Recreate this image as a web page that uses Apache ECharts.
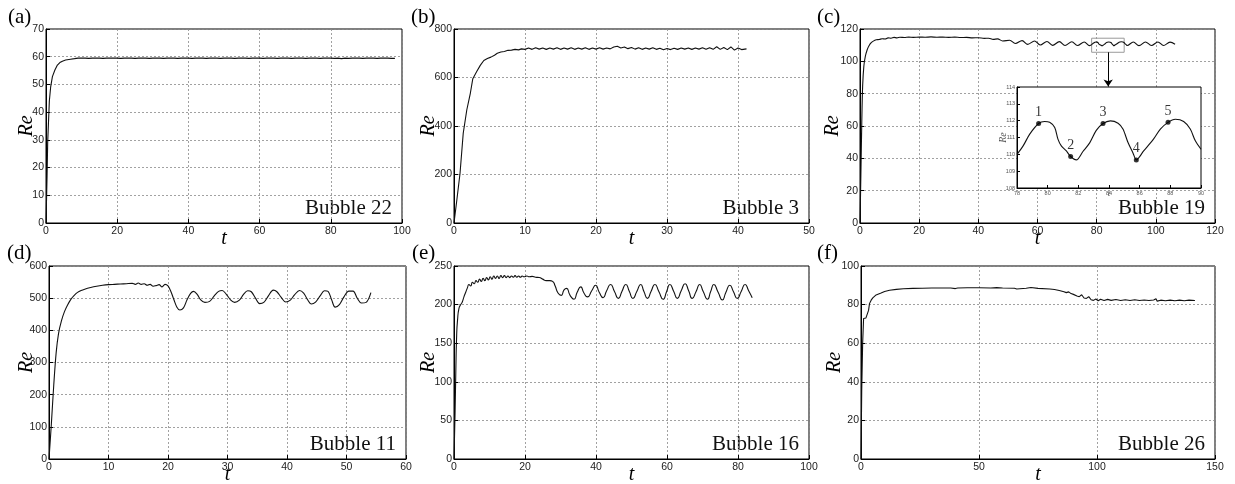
<!DOCTYPE html>
<html><head><meta charset="utf-8">
<script src="https://cdn.jsdelivr.net/npm/echarts/dist/echarts.min.js"></script>
<style>html,body{margin:0;padding:0;background:#fff}#c{width:1235px;height:484px}</style>
</head><body><div id="c"></div>
<script>
// ---------- data (t, Re) ----------
const reA = [[0,0],[0.3,17],[0.47,29],[0.94,44],[1.3,49],[1.8,52.8],[2.5,55.2],[3.2,57],[3.9,57.9],[4.6,58.4],[5.5,58.8],[6.9,59.1],[8,59.3],
[9,59.5],[9.5,59.1],[10,59.5],[10.5,59.2],[11,59.5],[11.5,59.1],[12,59.4],[12.5,59.1],[13,59.5],[13.5,59.2],
[14,59.5],[14.5,59.1],[15,59.5],[15.5,59.1],[16,59.4],[16.5,59.2],[17,59.5],[17.5,59.1],[18,59.5],[18.5,59.1],
[19,59.5],[19.5,59.2],[20,59.5],[20.5,59.1],[21,59.4],[21.5,59.1],[22,59.5],[22.5,59.2],[23,59.5],[23.5,59.1],
[24,59.5],[24.5,59.1],[25,59.4],[25.5,59.2],[26,59.5],[26.5,59.1],[27,59.5],[27.5,59.1],[28,59.5],[28.5,59.2],
[29,59.4],[29.5,59.1],[30,59.5],[30.5,59.1],[31,59.5],[31.5,59.2],[32,59.5],[32.5,59.1],[33,59.4],[33.5,59.1],
[34,59.5],[34.5,59.2],[35,59.5],[35.5,59.1],[36,59.5],[36.5,59.1],[37,59.4],[37.5,59.2],[38,59.5],[38.5,59.1],
[39,59.5],[39.5,59.1],[40,59.5],[40.5,59.2],[41,59.4],[41.5,59.1],[42,59.5],[42.5,59.1],[43,59.5],[43.5,59.2],
[44,59.5],[44.5,59.1],[45,59.4],[45.5,59.1],[46,59.5],[46.5,59.2],[47,59.5],[47.5,59.1],[48,59.5],[48.5,59.1],
[49,59.4],[49.5,59.2],[50,59.5],[50.5,59.1],[51,59.5],[51.5,59.1],[52,59.5],[52.5,59.2],[53,59.4],[53.5,59.1],
[54,59.5],[54.5,59.1],[55,59.5],[55.5,59.2],[56,59.5],[56.5,59.1],[57,59.4],[57.5,59.1],[58,59.5],[58.5,59.2],
[59,59.5],[59.5,59.1],[60,59.5],[60.5,59.1],[61,59.4],[61.5,59.2],[62,59.5],[62.5,59.1],[63,59.5],[63.5,59.1],
[64,59.5],[64.5,59.2],[65,59.4],[65.5,59.1],[66,59.5],[66.5,59.1],[67,59.5],[67.5,59.2],[68,59.5],[68.5,59.1],
[69,59.4],[69.5,59.1],[70,59.5],[70.5,59.2],[71,59.5],[71.5,59.1],[72,59.5],[72.5,59.1],[73,59.4],[73.5,59.2],
[74,59.5],[74.5,59.1],[75,59.5],[75.5,59.1],[76,59.5],[76.5,59.2],[77,59.4],[77.5,59.1],[78,59.5],[78.5,59.1],
[79,59.5],[79.5,59.2],[80,59.5],[80.5,59.1],[81,59.4],[81.5,59.1],[82,59.5],[82.5,58.9],[83,59.3],[83.5,59.1],
[84,59.5],[84.5,59.1],[85,59.4],[85.5,59.2],[86,59.5],[86.5,59.1],[87,59.5],[87.5,59.1],[88,59.5],[88.5,59.2],
[89,59.4],[89.5,59.1],[90,59.5],[90.5,59.1],[91,59.5],[91.5,59.2],[92,59.5],[92.5,59.1],[93,59.4],[93.5,59.1],
[94,59.5],[94.5,59.2],[95,59.5],[95.5,59.1],[96,59.5],[96.5,59.1],[97,59.4],[97.5,59.2],[98,59.4]];

const reB = [[0,0],[0.4,95],[0.85,205],[1.3,370],[1.8,466],[2.3,535],[2.65,595],[3.2,625],[3.7,650],[4.2,670],[4.7,678],[5.2,684],[5.7,692],[6.1,700],[6.6,705],[7.1,707],[7.6,712],[8.1,713],[8.6,716],[9.1,714],[9.5,718],[10,716],
[10.5,722],[11,716],[11.5,723],[12,717],[12.5,722],[13,716],[13.5,722],[14,717],[14.5,723],[15,716],[15.5,722],[16,717],[16.5,723],[17,716],[17.5,722],[18,717],[18.5,723],[19,716],[19.5,722],[20,717],
[20.5,723],[21,717],[21.5,722],[22,718],[22.5,726],[23,729],[23.5,722],[24,726],[24.5,719],[25,724],[25.5,717],[26,723],[26.5,716],[27,722],[27.5,717],[28,723],[28.5,716],[29,721],[29.5,714],[30,720],
[30.5,715],[31,721],[31.5,716],[32,722],[32.5,717],[33,722],[33.5,716],[34,722],[34.5,717],[35,723],[35.5,716],[36,723],[36.5,716],[37,727],[37.5,716],[38,724],[38.5,715],[39,726],[39.5,713],[40,722],[40.5,715],[41.2,718]];

const reInset = [[78,110.0],[78.4,110.5],[78.83,111.2],[79.41,111.83],[79.8,111.95],[80.13,111.9],[80.46,111.6],[80.67,110.9],[80.89,110.5],[81.22,110.2],[81.5,109.87],[81.87,109.67],[82.3,110.17],[82.74,110.68],[83.17,111.42],[83.61,111.83],[84.09,111.99],[84.59,111.85],[84.91,111.5],[85.24,110.7],[85.57,110.07],[85.78,109.67],[86.26,110.2],[86.9,110.9],[87.35,111.5],[87.85,111.9],[88.33,112.08],[88.87,111.95],[89.3,111.5],[89.63,110.8],[90,110.3]];
const insetPoints = [[79.41,111.83],[81.5,109.87],[83.61,111.83],[85.78,109.67],[87.85,111.9]];
const insetPointLabels = ['1','2','3','4','5'];

const reCStart = [[0,0],[0.3,30],[0.6,62],[0.9,85],[1.3,97],[1.8,103],[2.4,107],[3,109.5],[3.8,111.5],[4.5,112.5],[5.5,113.3],[6.5,113.5],[7.5,114],[8.5,113.8],[9.5,114.5],[10.5,114.3],[11.5,114.8],[12.5,114.5],[13.5,114.9],[15,114.7],[16.5,115],[18,114.8],[20,115],[22,114.9],[24,115.1],[26,114.9],[28,115],[30,114.8],[32,115],[34,114.7],[36,114.8],[38,114.5],[40,114.6],[42,114.2],[43.5,114.3],[45,113.6],[46.5,113.9],[48.2,112.6],
[50.6,113.0],[52.5,111.0],[54.8,112.8],[56.7,110.5],[59,112.6],[60.9,110.1],[63.2,112.3],[65.1,109.9],[67.4,112.2],[69.3,109.8],[71.6,112.1],[73.5,109.8],[75.8,112.0],[77.6,109.7]];
const reCEnd = [[90.3,109.8],[92.4,112.0],[94.3,109.7],[96.5,112.0],[98.5,109.8],[100.7,112.0],[102.6,109.8],[104.8,111.9],[106.5,110.6]];

const reD = [[0,0],[0.4,110],[0.8,230],[1.2,330],[1.6,390],[2.1,430],[2.6,458],[3.1,478],[3.7,497],[4.2,508],[4.8,518],[5.4,524],[6,528],[7,533],[8,537],[9,540],[10,542],[11,543],[12,544],[13,545],[14,546],[14.5,543],[15,547],[15.5,543],[16,545],[16.5,540],[17,543],[17.5,537],[18,539],[18.5,542],[19,535],[19.5,543],[20,538],
[20.5,520],[21,495],[21.5,472],[22,463],[22.6,470],[23.2,495],[23.8,515],[24.3,521],[24.9,512],[25.5,495],[26.2,487],[27,490],[27.8,508],[28.5,521],[29.1,524],[29.8,512],[30.5,495],[31.2,487],[32,494],[32.7,512],[33.4,523],[34,520],[34.7,500],[35.4,483],[36.1,487],[36.9,508],[37.7,525],[38.3,520],[39,503],[39.8,488],[40.5,493],[41.3,511],[42.1,524],[42.8,516],[43.4,497],[44.1,482],[44.8,488],[45.6,508],[46.3,523],[46.9,521],[47.5,495],[48.1,472],[48.8,480],[49.6,505],[50.4,522],[51.1,522],[51.8,500],[52.5,485],[53.3,487],[54.1,517]];

const reE = [[0,0],[0.3,60],[0.5,110],[0.75,160],[1,180],[1.4,195],[1.9,200],[2.3,203],[2.8,210],[3.3,216],[3.8,222],[4.2,226],[4.7,224],[5.2,229],[5.7,227],[6.2,231],[6.7,229],[7.2,233],[7.7,230],[8.2,234],[8.7,231],[9.2,235],[9.7,232],[10.2,236],[10.7,233],[11.2,237],[11.7,234],[12.2,237],[12.7,234],[13.2,237.5],[13.7,235],[14.2,237.5],[14.7,235],[15.2,237],[15.7,235],[16.2,237],[16.7,235.5],[17.2,237.5],[17.7,235.5],[18.2,237],[18.7,235.5],[19.2,237],[19.7,236],[20.5,237],[21.2,236],[22,236.5],[23,235.5],[24,235],[25,233],[26,231],[27,231],[27.8,230],
[28.5,224],[29.3,215],[30.2,212],[31,219],[31.7,221],[32.7,212],[33.8,207],[34.7,216],[35.7,223],[36.6,215],[37.6,210],[38.8,218],[39.9,225],[40.9,216],[42,209],[43,218],[44.1,226],[45.2,217],[46.3,208],[47.3,217],[48.4,226],[49.4,217],[50.4,208],[51.5,217],[52.6,226],[53.5,217],[54.5,208],[55.5,217],[56.6,226],[57.7,217],[58.9,207],[59.9,217],[60.8,226],[61.9,217],[62.9,208],[64,218],[65.1,227],[66.1,218],[67.1,208],[68.2,217],[69.2,226],[70.2,217],[71.4,207],[72.3,217],[73.2,226],[74.4,216],[75.6,206],[76.6,216],[77.7,225],[78.7,217],[79.8,208],[80.9,217],[82,226],[83,218],[84,209]];

const reF = [[0,0],[0.3,35],[0.7,60],[1.1,72.8],[1.6,73],[2.1,73.1],[2.8,73.5],[3.2,77],[3.6,80.5],[4.3,82.3],[5,83.5],[6.4,85],[8.5,86],[10,86.8],[12.1,87.4],[15,87.9],[18,88.2],[22,88.4],[26,88.5],[30,88.6],[34,88.6],[38,88.6],[40,88.3],[40.5,88.9],[41,88.6],[45,88.7],[50,88.7],[55,88.6],[57.5,88.8],[60,88.6],[65,88.5],[66,88.1],[66.5,88.7],[70,88.5],[72,88.9],[72.5,88.3],[75,88.4],[80,88.1],[82,87.8],[84,87.3],[86,86.7],[87,86.2],[88,86.6],[89,85.7],[90,85.3],[90.5,86],[91.5,84.5],[92.5,84.1],[93.5,85.1],[94.5,83.4],[95.5,83.2],[96.5,84.1],[97.5,82.5],[98.5,82.2],[99.5,82.9],[100.5,82],[101.5,82.8],[103,82.1],[104.5,82.7],[106,82.2],[108,82.6],[110,82.1],[112,82.5],[114,82.1],[116,82.5],[118,82.1],[120,82.4],[122,82.1],[124,82.4],[125,83],[125.5,81.8],[127,82.3],[129,82],[131,82.3],[133,82],[135,82.3],[137,82],[139,82.3],[141.5,82.1]];

// axis ranges and tick steps per panel
const xMax = [100, 50, 120, 60, 100, 150];
const xStep = [20, 10, 20, 10, 20, 50];
const yMax = [70, 800, 120, 600, 250, 100];
const yStep = [10, 200, 20, 100, 50, 20];
const panelTags = ['(a)','(b)','(c)','(d)','(e)','(f)'];
const bubbleNames = ['Bubble 22','Bubble 3','Bubble 19','Bubble 11','Bubble 16','Bubble 26'];

// ---------- layout ----------
const grids = [
  {left:46, top:29, width:356, height:194},
  {left:454, top:29, width:355, height:194},
  {left:860, top:29, width:355, height:194},
  {left:49, top:266, width:357, height:193},
  {left:454, top:266, width:355, height:193},
  {left:861, top:266, width:354, height:193}
];
const yNameGap = [9, 15, 17, 12, 15, 16];
const insetGrid = {left:1017, top:87, width:184, height:101};

const serif = '"Liberation Serif","Times New Roman",serif';
const sans = '"Liberation Sans",Arial,sans-serif';

const gridOpts = grids.map(g => Object.assign({show:true, borderColor:'#000', borderWidth:1, backgroundColor:'transparent', outerBoundsMode:'none', containLabel:false}, g));
gridOpts.push(Object.assign({show:true, borderColor:'#000', borderWidth:1, backgroundColor:'#fff', z:3, outerBoundsMode:'none', containLabel:false}, insetGrid));

const splitStyle = {show:true, lineStyle:{color:'#8a8a8a', type:[2,2], width:0.8}};
const xAxes = grids.map((g,i) => ({
  gridIndex:i, type:'value', min:0, max:xMax[i], interval:xStep[i],
  name:'t', nameLocation:'middle', nameGap:6, nameMoveOverlap:false,
  nameTextStyle:{fontFamily:serif, fontStyle:'italic', fontSize:20, color:'#000'},
  axisLine:{show:true, lineStyle:{color:'#000', width:1}},
  axisTick:{show:true, inside:true, length:4, lineStyle:{color:'#000'}},
  axisLabel:{fontFamily:sans, fontSize:10.5, color:'#222', margin:3},
  splitLine:splitStyle
}));
const yAxes = grids.map((g,i) => ({
  gridIndex:i, type:'value', min:0, max:yMax[i], interval:yStep[i],
  name:'Re', nameLocation:'middle', nameGap:yNameGap[i], nameMoveOverlap:false,
  nameTextStyle:{fontFamily:serif, fontStyle:'italic', fontSize:20, color:'#000'},
  axisLine:{show:true, lineStyle:{color:'#000', width:1}},
  axisTick:{show:true, inside:true, length:4, lineStyle:{color:'#000'}},
  axisLabel:{fontFamily:sans, fontSize:10.5, color:'#222', margin:2},
  splitLine:splitStyle
}));
xAxes.push({
  gridIndex:6, type:'value', min:78, max:90, interval:2, z:4,
  name:'t', nameLocation:'middle', nameGap:1, nameMoveOverlap:false,
  nameTextStyle:{fontFamily:serif, fontStyle:'italic', fontSize:9, color:'#555'},
  axisLine:{show:true, lineStyle:{color:'#000'}},
  axisTick:{show:true, inside:true, length:3, lineStyle:{color:'#000'}},
  axisLabel:{fontFamily:sans, fontSize:5.5, color:'#555', margin:2},
  splitLine:{show:false}
});
yAxes.push({
  gridIndex:6, type:'value', min:108, max:114, interval:1, z:4,
  name:'Re', nameLocation:'middle', nameGap:9, nameMoveOverlap:false,
  nameTextStyle:{fontFamily:serif, fontStyle:'italic', fontSize:10, color:'#555'},
  axisLine:{show:true, lineStyle:{color:'#000'}},
  axisTick:{show:true, inside:true, length:3, lineStyle:{color:'#000'}},
  axisLabel:{fontFamily:sans, fontSize:5.5, color:'#555', margin:2},
  splitLine:{show:false}
});

const lineStyle = {color:'#111', width:1.1};
const reC = reCStart.concat(reInset, reCEnd);
const panelData = [reA, reB, reC, reD, reE, reF];
const smoothing = [false, false, 0.35, 0.35, 0.6, false];

const series = panelData.map((d,i) => ({
  type:'line', xAxisIndex:i, yAxisIndex:i, data:d, showSymbol:false, smooth:smoothing[i],
  lineStyle:lineStyle, silent:true
}));
// zoom box and arrow in panel (c)
series[2].markArea = {silent:true, itemStyle:{color:'rgba(0,0,0,0)', borderColor:'#9a9a9a', borderWidth:1},
  data:[[{coord:[78.3,105.6]},{coord:[89.3,114.3]}]]};
series[2].markLine = {silent:true, symbol:['none','arrow'], symbolSize:7, label:{show:false},
  lineStyle:{color:'#000', type:'solid', width:1},
  data:[[{coord:[83.9,105.6]},{coord:[83.9,84.4]}]]};
series.push({
  type:'line', xAxisIndex:6, yAxisIndex:6, data:reInset, showSymbol:false, smooth:0.3, z:5,
  lineStyle:{color:'#111', width:1.1}, silent:true
});
series.push({
  type:'scatter', xAxisIndex:6, yAxisIndex:6, z:6, symbol:'circle', symbolSize:5, silent:true,
  itemStyle:{color:'#000'},
  data:insetPoints.map((p,k) => ({value:p, name:insetPointLabels[k]})),
  label:{show:true, formatter:'{b}', position:'top', distance:2, fontFamily:serif, fontSize:14, color:'#000'}
});

const graphics = [];
grids.forEach((g,i) => {
  const topRow = i < 3;
  const tagX = [8, 411, 817, 7, 412, 817][i];
  graphics.push({type:'text', x:tagX, y: topRow ? 17.5 : 253,
    style:{text:panelTags[i], font:'21px ' + serif, fill:'#000', verticalAlign:'middle', align:'left'}});
  graphics.push({type:'text', x:g.left + g.width - 10, y: g.top + g.height - 15,
    style:{text:bubbleNames[i], font:'21px ' + serif, fill:'#111', verticalAlign:'middle', align:'right'}});
});

const chart = echarts.init(document.getElementById('c'), null, {renderer:'canvas'});
chart.setOption({
  animation:false,
  backgroundColor:'#fff',
  grid:gridOpts, xAxis:xAxes, yAxis:yAxes, series:series, graphic:graphics
});
</script></body></html>
